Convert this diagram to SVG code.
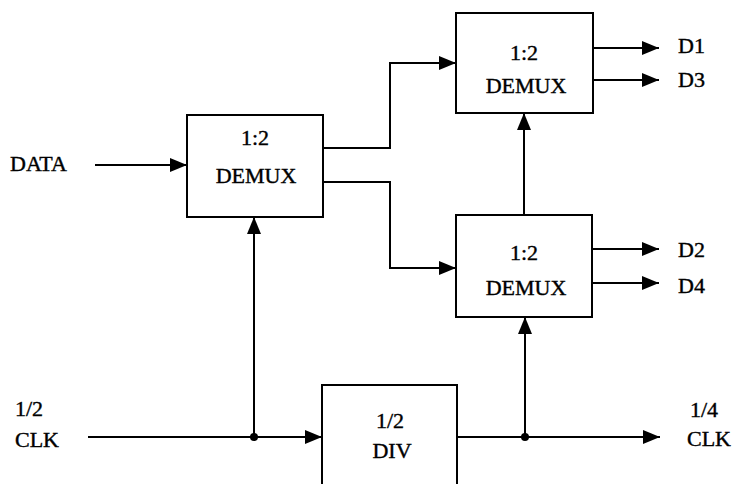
<svg xmlns="http://www.w3.org/2000/svg" width="733" height="484" viewBox="0 0 733 484">
<style>
  .box { fill: #fff; stroke: #000; stroke-width: 2; }
  .wire { fill: none; stroke: #000; stroke-width: 2; }
  text { font-family: "Liberation Serif", "Times New Roman", serif; font-size: 22px; fill: #000; stroke: #000; stroke-width: 0.4; }
  .c { text-anchor: middle; }
</style>
<defs>
  <marker id="arr" markerUnits="userSpaceOnUse" markerWidth="18" markerHeight="16" refX="17" refY="8" orient="auto">
    <path d="M0,1 L17,8 L0,15 Z" fill="#000"/>
  </marker>
</defs>
<rect width="733" height="484" fill="#fff"/>
<g id="connectors">
  <path class="wire" d="M95,165 H187" marker-end="url(#arr)"/>
  <path class="wire" d="M323,148 H390 V63 H456" marker-end="url(#arr)"/>
  <path class="wire" d="M323,182 H390 V268 H456" marker-end="url(#arr)"/>
  <path class="wire" d="M593,48 H659" marker-end="url(#arr)"/>
  <path class="wire" d="M593,80 H659" marker-end="url(#arr)"/>
  <path class="wire" d="M592,249 H659" marker-end="url(#arr)"/>
  <path class="wire" d="M592,283 H659" marker-end="url(#arr)"/>
  <path class="wire" d="M524,215 V113" marker-end="url(#arr)"/>
  <path class="wire" d="M88,437 H322" marker-end="url(#arr)"/>
  <path class="wire" d="M254,437 V217" marker-end="url(#arr)"/>
  <path class="wire" d="M457,437 H660" marker-end="url(#arr)"/>
  <path class="wire" d="M525,437 V317" marker-end="url(#arr)"/>
  <circle cx="254" cy="437" r="4" fill="#000"/>
  <circle cx="525" cy="437" r="4" fill="#000"/>
</g>
<g id="demux1">
  <rect class="box" x="187" y="115" width="136" height="102"/>
  <text class="c" x="255" y="145">1:2</text>
  <text class="c" x="256" y="183">DEMUX</text>
</g>
<g id="demux2">
  <rect class="box" x="456" y="13" width="137" height="100"/>
  <text class="c" x="524" y="60">1:2</text>
  <text class="c" x="526" y="93">DEMUX</text>
</g>
<g id="demux3">
  <rect class="box" x="456" y="215" width="136" height="102"/>
  <text class="c" x="524" y="260">1:2</text>
  <text class="c" x="526" y="295">DEMUX</text>
</g>
<g id="div">
  <path class="box" d="M322,486 V385 H457 V486"/>
  <text class="c" x="390" y="428">1/2</text>
  <text class="c" x="392" y="458">DIV</text>
</g>
<g id="labels">
  <text x="10" y="171">DATA</text>
  <text x="15" y="416">1/2</text>
  <text x="15" y="447">CLK</text>
  <text x="690" y="417">1/4</text>
  <text x="687" y="446">CLK</text>
  <text x="678" y="53">D1</text>
  <text x="678" y="87">D3</text>
  <text x="678" y="257">D2</text>
  <text x="678" y="293">D4</text>
</g>
</svg>
